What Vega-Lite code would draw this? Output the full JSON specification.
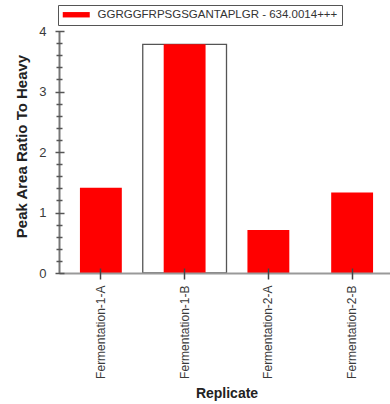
{
  "$schema": "https://vega.github.io/schema/vega-lite/v6.json",
  "width": 331,
  "height": 242,
  "autosize": "none",
  "padding": {"left": 59, "top": 31, "right": 0, "bottom": 131},
  "background": "white",
  "data": {
    "values": [
      {"replicate": "Fermentation-1-A", "ratio": 1.41, "selected": false, "peptide": "GGRGGFRPSGSGANTAPLGR - 634.0014+++"},
      {"replicate": "Fermentation-1-B", "ratio": 3.78, "selected": true, "peptide": "GGRGGFRPSGSGANTAPLGR - 634.0014+++"},
      {"replicate": "Fermentation-2-A", "ratio": 0.71, "selected": false, "peptide": "GGRGGFRPSGSGANTAPLGR - 634.0014+++"},
      {"replicate": "Fermentation-2-B", "ratio": 1.33, "selected": false, "peptide": "GGRGGFRPSGSGANTAPLGR - 634.0014+++"}
    ]
  },
  "encoding": {
    "x": {
      "field": "replicate",
      "type": "nominal",
      "sort": ["Fermentation-1-A", "Fermentation-1-B", "Fermentation-2-A", "Fermentation-2-B"],
      "scale": {"paddingInner": 0.5, "paddingOuter": 0.25, "range": [0, 335]}
    },
    "y": {
      "field": "ratio",
      "type": "quantitative",
      "scale": {"domain": [0, 4], "nice": false}
    }
  },
  "layer": [
    {
      "transform": [{"filter": "datum.selected"}],
      "mark": {"type": "bar", "width": {"band": 2}, "fill": "white", "stroke": "#555", "strokeWidth": 1.3},
      "encoding": {
        "x": {
          "field": "replicate", "type": "nominal",
          "sort": ["Fermentation-1-A", "Fermentation-1-B", "Fermentation-2-A", "Fermentation-2-B"],
          "axis": {"orient": "bottom", "title": null, "labels": false, "ticks": false, "domain": true, "domainColor": "#999", "domainWidth": 2, "zindex": 1}
        },
        "y": {
          "field": "ratio", "type": "quantitative",
          "axis": {"orient": "left", "title": null, "labels": false, "ticks": false, "grid": false, "domain": true, "domainColor": "#777", "domainWidth": 2, "zindex": 1}
        }
      }
    },
    {
      "mark": {"type": "bar"},
      "encoding": {
        "x": {
          "field": "replicate", "type": "nominal",
          "sort": ["Fermentation-1-A", "Fermentation-1-B", "Fermentation-2-A", "Fermentation-2-B"],
          "axis": {
            "orient": "bottom",
            "title": "Replicate",
            "titleFont": "Liberation Sans",
            "titleFontSize": 14,
            "titleFontWeight": "bold",
            "titleColor": "#222",
            "titlePadding": 8,
            "labelAngle": 270,
            "labelAlign": "right",
            "labelBaseline": "middle",
            "labelFont": "Liberation Sans",
            "labelFontSize": 12,
            "labelColor": "#3a3a3a",
            "labelPadding": 6,
            "offset": -5,
            "tickSize": 11,
            "tickColor": "#444",
            "tickWidth": 1.5,
            "domain": false,
            "zindex": 1
          }
        },
        "y": {
          "field": "ratio", "type": "quantitative",
          "axis": {
            "orient": "left",
            "title": "Peak Area Ratio To Heavy",
            "titleFont": "Liberation Sans",
            "titleFontSize": 15,
            "titleFontWeight": "bold",
            "titleColor": "#222",
            "titlePadding": 9,
            "titleY": 115,
            "values": [0, 1, 2, 3, 4],
            "format": "d",
            "labelFont": "Liberation Sans",
            "labelFontSize": 13,
            "labelColor": "#3a3a3a",
            "labelPadding": 9,
            "offset": -5,
            "tickSize": 9,
            "tickColor": "#555",
            "tickWidth": 1.5,
            "domain": false,
            "grid": false,
            "zindex": 1
          }
        },
        "color": {
          "field": "peptide",
          "type": "nominal",
          "scale": {"range": ["#ff0000"]},
          "legend": {
            "orient": "none",
            "legendX": -1,
            "legendY": -26,
            "title": null,
            "symbolType": "M-1,-0.54H4.4V0.54H-1Z",
            "symbolSize": 100,
            "symbolStrokeWidth": 0,
            "labelFont": "Liberation Sans",
            "labelFontSize": 11.5,
            "labelColor": "#333",
            "labelOffset": 24,
            "labelLimit": 500,
            "padding": 4,
            "strokeColor": "#555",
            "fillColor": "white",
            "labelExpr": "datum.label + '            '"
          }
        }
      }
    },
    {
      "transform": [{"filter": "false"}],
      "mark": {"type": "bar"},
      "encoding": {
        "x": {
          "field": "replicate", "type": "nominal",
          "sort": ["Fermentation-1-A", "Fermentation-1-B", "Fermentation-2-A", "Fermentation-2-B"],
          "axis": null
        },
        "y": {
          "field": "ratio", "type": "quantitative",
          "axis": {
            "orient": "left",
            "title": null,
            "labels": false,
            "values": [0.2, 0.4, 0.6, 0.8, 1.2, 1.4, 1.6, 1.8, 2.2, 2.4, 2.6, 2.8, 3.2, 3.4, 3.6, 3.8],
            "offset": -3,
            "tickSize": 6,
            "tickColor": "#555",
            "tickWidth": 1.5,
            "domain": false,
            "grid": false,
            "zindex": 1
          }
        }
      }
    }
  ],
  "resolve": {"axis": {"x": "independent", "y": "independent"}},
  "config": {"view": {"stroke": null}, "font": "Liberation Sans"}
}
